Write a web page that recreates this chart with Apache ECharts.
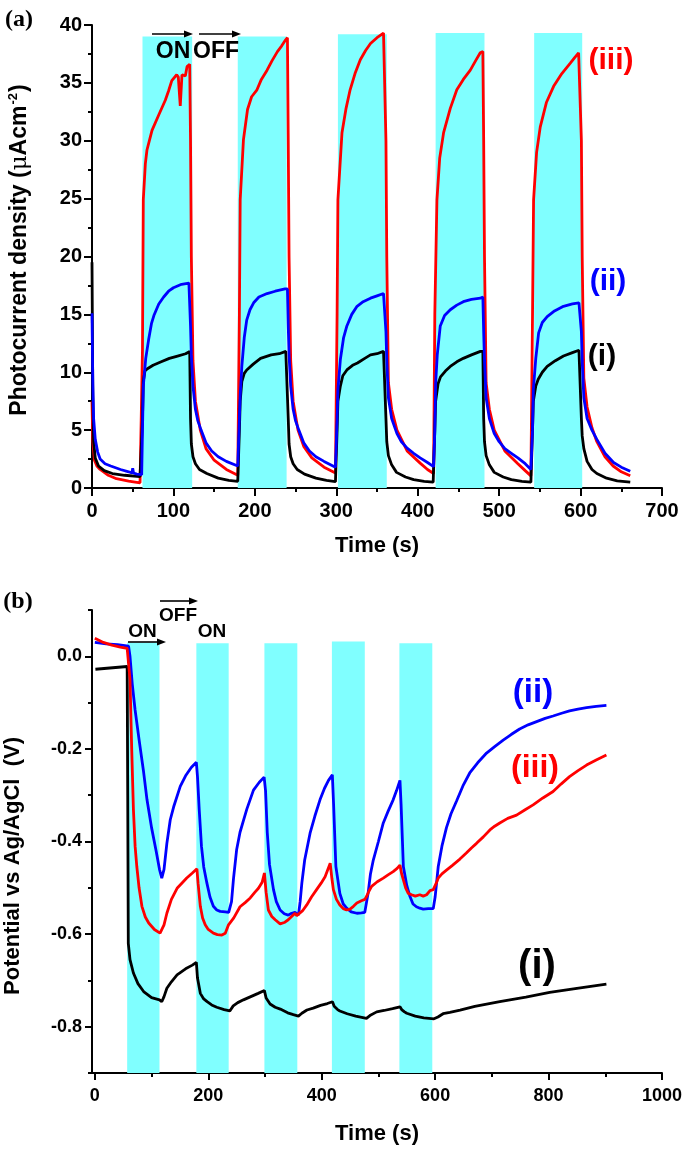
<!DOCTYPE html>
<html><head><meta charset="utf-8">
<script src="https://cdn.jsdelivr.net/npm/echarts@6.0.0/dist/echarts.min.js"></script>
<style>html,body{margin:0;padding:0;background:#fff}#c{width:685px;height:1150px}</style>
</head><body><div id="c"></div>
<script>
// ---------- Panel (a): photocurrent density (uA cm^-2) vs time (s) ----------
const photoBlack = [[0,19.5],[1,8],[2,4],[4,2.6],[8,1.9],[15,1.5],[25,1.25],[40,1.1],[59,0.98],[61,1.0],[62,6],[63,9.2],[65,10.1],[68,10.3],[75,10.6],[85,10.9],[95,11.2],[105,11.4],[115,11.6],[120,11.8],[121,6],[122,3.8],[124,2.7],[127,2.1],[132,1.6],[141,1.25],[155,0.85],[168,0.65],[179,0.58],
[180,0.6],[181,5],[182,7.5],[184,9.2],[187,9.9],[190,10.2],[198,10.7],[207,11.2],[220,11.5],[230,11.6],[238,11.8],[240,11.8],[241,6],[242,3.8],[244,2.7],[247,2.1],[252,1.6],[261,1.2],[275,0.85],[288,0.65],[299,0.55],
[300,0.55],[301,5],[302,7.5],[305,8.8],[308,9.7],[313,10.2],[320,10.6],[326,10.8],[335,11.2],[342,11.5],[350,11.6],[358,11.8],[360,11.8],[361,6],[362,4],[364,2.8],[368,2],[374,1.35],[385,0.95],[395,0.72],[408,0.58],[419,0.5],
[420,0.5],[421,5],[422,7.5],[425,9.0],[428,9.6],[434,10.1],[440,10.5],[448,10.9],[456,11.2],[466,11.5],[477,11.8],[480,11.8],[481,6],[482,4],[484,2.8],[488,2],[494,1.35],[505,0.95],[515,0.72],[528,0.58],[539,0.5],
[540,0.5],[541,5],[542,7.5],[545,8.8],[548,9.4],[553,10.0],[559,10.5],[569,11.0],[579,11.4],[590,11.7],[598,11.9],[600,11.9],[601,6],[602,4.5],[604,3.4],[608,2.3],[614,1.6],[620,1.25],[632,0.85],[645,0.62],[661,0.5]];

const photoBlue = [[0,15.1],[1,9],[2,6],[4,4.2],[7,3.1],[10,2.5],[16,2.1],[23,1.9],[35,1.6],[45,1.4],[49,1.3],[50,1.7],[51,1.3],[55,1.2],[61,1.15],
[62,5],[63,8.8],[66,11.2],[69.5,12.8],[73,14.2],[76,14.9],[82,15.9],[88,16.5],[94,17.0],[100,17.3],[110,17.6],[119,17.7],[120,17.8],
[121,14],[122,11.5],[124,8.8],[127,6.8],[130,5.8],[134,5.0],[140,3.9],[147,3.2],[155,2.7],[165,2.3],[179,1.9],
[180,1.9],[181,6],[182,8],[184,10.5],[187,13],[190,14.5],[194,15.4],[198.5,16.0],[205,16.5],[215,16.8],[225,17.0],[237,17.2],[240,17.2],
[241,14],[242,11.5],[244,8.8],[247,6.8],[250,5.8],[254,5.0],[260,3.9],[267,3.2],[275,2.7],[285,2.3],[299,1.8],
[300,1.8],[301,6],[302,8.5],[305,11.1],[309,13],[313,14.0],[319,15.0],[325.5,15.7],[333,16.1],[342,16.4],[350,16.6],[358,16.8],[360,16.8],
[361,13.5],[362,11],[364,7.8],[368,6],[374.5,4.7],[380,4.0],[387,3.45],[395,3.0],[403,2.6],[412,2.2],[419.5,1.85],
[420,1.8],[421,5],[422,9],[424,11.5],[427.7,14.0],[433,14.9],[440,15.4],[448,15.8],[456,16.1],[466,16.3],[477,16.4],[480,16.5],
[481,13.5],[482,11],[484,7.8],[488,6],[494,4.7],[500,4.0],[507,3.4],[515,3.0],[523,2.6],[532,2.1],[539,1.6],
[540,1.55],[541,5],[542,8.5],[545,11.2],[548.5,13.4],[553,14.3],[559,14.8],[568,15.3],[579,15.7],[590,15.9],[598,16.0],[600,16.1],
[601,13.5],[602,11],[604,7.8],[608,6],[614,5],[620,4.2],[630,3.0],[640.5,2.2],[650,1.8],[661,1.45]];

const photoRed = [[0,7.5],[1,4],[3,2.4],[6,1.9],[10,1.6],[20,1.1],[30,0.8],[45,0.6],[59,0.45],[61,0.5],
[62,12],[63,24.9],[65.5,28],[67.5,29.2],[73.7,30.9],[81.8,32.2],[90,33.5],[94,34.3],[98,35.2],[104,35.7],[106,35.5],[108.4,33.0],[110.5,35.7],[114.6,35.6],[116.7,36.4],[120,36.6],
[121,30],[122,20],[124,11],[127,7.5],[133,5.0],[140,3.4],[150,2.4],[165,1.6],[179,1.1],
[180,1.1],[181,15],[182,24.9],[186,30.1],[191,32.7],[196,33.8],[202.6,34.4],[208,35.3],[215,36.1],[221,36.9],[227.7,37.7],[233,38.2],[237.6,38.7],[240,38.9],
[241,30],[242,20],[244,11],[247,7.5],[253,5.0],[260,3.6],[270,2.6],[285,1.8],[299,1.3],
[300,1.3],[301,15],[302,24.9],[307,30.7],[312,32.8],[317,34.4],[323,35.8],[329.5,37.0],[336,37.8],[342,38.4],[350,38.9],[358,39.3],[360,39.3],
[361,30],[362,20],[364,9.1],[368,6.8],[374.5,5.0],[387,3.2],[403,2.15],[412,1.6],[419.5,1.25],
[420,1.2],[421,15],[423.6,24.9],[427,28.5],[431.8,30.7],[440,32.8],[448,34.4],[456,35.3],[464.6,36.1],[471,36.9],[476.8,37.6],[480,37.7],
[481,30],[482,20],[484,9.1],[488,6.8],[494,5.0],[507,3.2],[523,2.1],[532,1.5],[539,1.05],
[540,1.0],[541,15],[542.3,24.9],[546,29],[550.5,31.2],[558,33.3],[566.9,34.7],[577,35.8],[587.4,36.7],[593,37.2],[597.6,37.6],[600,37.6],
[601,30],[602,20],[604,9.5],[608,7],[614,5.2],[620,4.0],[630,2.7],[640,1.9],[650,1.4],[661,1.06]];

// illumination (ON) periods in panel (a): [start, end, top]
const photoOnPeriods = [[62,123,39.0],[179,239,39.0],[302,362,39.2],[422,482,39.3],[543,602,39.3]];

// ---------- Panel (b): potential vs Ag/AgCl (V) vs time (s) ----------
const potBlack = [[1,-0.028],[57,-0.022],[58,-0.3],[59,-0.62],[62,-0.655],[68,-0.684],[76,-0.707],[86,-0.724],[100,-0.737],[114,-0.742],[118,-0.746],
[122,-0.735],[127,-0.717],[135,-0.703],[145,-0.688],[160,-0.675],[172,-0.667],[179,-0.661],
[181,-0.695],[186,-0.728],[192,-0.74],[198,-0.746],[206,-0.753],[215,-0.758],[228,-0.763],[238,-0.766],
[244,-0.755],[252,-0.748],[262,-0.742],[275,-0.735],[288,-0.728],[299,-0.722],
[302,-0.738],[309,-0.751],[318,-0.758],[327,-0.762],[340,-0.77],[350,-0.774],[359,-0.777],
[365,-0.771],[374,-0.764],[385,-0.76],[398,-0.754],[410,-0.75],[419,-0.746],
[422,-0.756],[428,-0.763],[432,-0.766],[445,-0.772],[460,-0.777],[479,-0.782],
[485,-0.776],[497,-0.768],[510,-0.765],[525,-0.761],[538,-0.757],
[541,-0.763],[546,-0.768],[550,-0.771],[565,-0.777],[580,-0.781],[598,-0.783],
[605,-0.779],[614,-0.772],[626,-0.769],[644,-0.764],[670,-0.756],[714,-0.746],[760,-0.736],[802,-0.726],[850,-0.717],[902,-0.708]];

const potBlue = [[0,0.03],[20,0.027],[40,0.025],[59.5,0.022],[62,0.0],[66,-0.06],[71,-0.116],[78,-0.18],[86,-0.25],[92,-0.31],[100,-0.37],[108,-0.42],[114,-0.46],[118,-0.479],
[122,-0.46],[127,-0.404],[133,-0.353],[139,-0.325],[150.6,-0.281],[160,-0.258],[170,-0.24],[179,-0.229],
[181,-0.26],[184,-0.33],[188,-0.41],[192,-0.455],[197.6,-0.49],[203,-0.52],[209,-0.54],[215,-0.548],[221,-0.551],[230,-0.552],[236,-0.553],[238.6,-0.555],
[241,-0.53],[244.5,-0.48],[250,-0.418],[256,-0.38],[262,-0.355],[268,-0.33],[279.7,-0.289],[290,-0.272],[298.5,-0.261],
[301,-0.29],[304,-0.38],[308,-0.45],[315,-0.504],[320,-0.53],[326.7,-0.548],[334,-0.556],[341,-0.559],[347,-0.555],[353,-0.553],[359,-0.559],
[362,-0.53],[365,-0.49],[370,-0.44],[379.5,-0.382],[388,-0.345],[397,-0.31],[405,-0.285],[412,-0.268],[418.8,-0.256],
[421,-0.32],[425,-0.454],[432,-0.512],[438,-0.535],[444,-0.544],[452,-0.552],[462,-0.555],[470,-0.554],[476,-0.553],[479,-0.55],
[482,-0.51],[486,-0.47],[491,-0.44],[500,-0.4],[508.6,-0.36],[517,-0.335],[526,-0.31],[532,-0.29],[538,-0.268],
[540,-0.32],[544,-0.454],[550,-0.495],[555.7,-0.519],[561,-0.535],[567,-0.541],[573,-0.544],[579,-0.546],[588,-0.545],[596.7,-0.545],
[600,-0.52],[605.5,-0.454],[612,-0.41],[620,-0.37],[628,-0.34],[638,-0.312],[649,-0.28],[661,-0.252],[675,-0.23],[690.7,-0.209],[705,-0.195],[720,-0.181],[734,-0.169],[749,-0.157],[764,-0.148],[779,-0.141],[794,-0.134],[808,-0.129],[823,-0.123],[837,-0.118],[852,-0.114],[867,-0.111],[884,-0.108],[902,-0.106]];

const potRed = [[0,0.039],[15,0.03],[30,0.024],[45,0.02],[57,0.017],[60,0.015],[62,-0.05],[65,-0.2],[68,-0.33],[71,-0.41],[74,-0.454],[78,-0.5],[83,-0.54],[89,-0.563],[95,-0.576],[105,-0.59],[115,-0.598],[118,-0.6],
[122,-0.58],[127,-0.555],[135,-0.525],[145,-0.501],[155,-0.488],[162,-0.479],[172,-0.468],[180,-0.459],
[182,-0.49],[186,-0.54],[190,-0.565],[194.6,-0.58],[200,-0.59],[209,-0.598],[216,-0.601],[224,-0.602],[230,-0.598],[233,-0.595],[235.7,-0.58],[238.6,-0.584],
[245,-0.565],[256,-0.541],[265,-0.532],[274,-0.522],[282,-0.51],[288.5,-0.501],[295,-0.488],[299,-0.468],
[302,-0.51],[306,-0.548],[312,-0.562],[318,-0.569],[326.7,-0.578],[334,-0.575],[341,-0.569],[347,-0.562],[353,-0.555],[356,-0.56],[359,-0.564],
[366,-0.55],[373.7,-0.537],[382,-0.52],[391,-0.504],[399,-0.49],[406,-0.476],[411,-0.46],[415,-0.447],
[418,-0.48],[420.6,-0.504],[426,-0.525],[432,-0.537],[438,-0.545],[444,-0.548],[450,-0.546],[456,-0.54],[462,-0.533],[470,-0.528],[476,-0.525],[479,-0.519],
[483,-0.508],[488,-0.497],[498,-0.487],[508.6,-0.479],[517,-0.472],[526,-0.465],[533,-0.458],[538,-0.451],
[541,-0.47],[544,-0.483],[548,-0.5],[552.6,-0.512],[558.6,-0.515],[565,-0.518],[573,-0.515],[579,-0.518],[585,-0.515],[591,-0.506],[596.7,-0.504],
[602,-0.49],[605.5,-0.479],[612,-0.47],[620,-0.462],[630,-0.452],[643.7,-0.438],[655,-0.425],[664,-0.414],[673,-0.404],[685,-0.39],[696.6,-0.375],[705,-0.367],[714,-0.36],[728,-0.35],[743.6,-0.343],[758,-0.332],[772.8,-0.321],[790,-0.306],[808,-0.292],[822,-0.276],[837,-0.26],[852,-0.247],[867,-0.235],[884,-0.224],[902,-0.213]];

const potOnPeriods = [[57,114,0.03],[179,236,0.028],[299,357,0.028],[418,476,0.032],[537,595,0.028]];

// tick values for panel (b)
const potXLabels = [0,200,400,600,800,1000];
const potXMinor = [100,300,500,700,900];
const potYLabels = [-0.8,-0.6,-0.4,-0.2,0];
const potYMinor = [-0.9,-0.7,-0.5,-0.3,-0.1,0.1];

// ---------- chart ----------
const FONT = "'Liberation Sans', Arial, Helvetica, sans-serif";
const CYAN = '#80FFFF';
const chart = echarts.init(document.getElementById('c'), null, {renderer: 'canvas'});

const axLine = {show: true, onZero: false, lineStyle: {color: '#000', width: 2}};
const noLine = {show: false, onZero: false};
const tickStyle = {color: '#000', width: 2};
const lblStyle = (size, margin) => ({color: '#000', fontWeight: 'bold', fontSize: size, fontFamily: FONT, margin: margin});
const nameStyle = {color: '#000', fontWeight: 'bold', fontSize: 22, fontFamily: FONT};

function lineSeries(data, color, xi, yi, z) {
  return {type: 'line', data: data, xAxisIndex: xi, yAxisIndex: yi, showSymbol: false, symbol: 'none',
    lineStyle: {color: color, width: 2.8}, z: z, silent: true, animation: false};
}
function areaSeries(periods, bottom, xi, yi) {
  return {type: 'line', data: [], xAxisIndex: xi, yAxisIndex: yi, z: 1, silent: true, animation: false,
    markArea: {silent: true, itemStyle: {color: CYAN, opacity: 1},
      data: periods.map(p => [{xAxis: p[0], yAxis: bottom}, {xAxis: p[1], yAxis: p[2]}])}};
}

const option = {
  animation: false,
  backgroundColor: '#fff',
  grid: [
    {left: 92, top: 25, width: 570, height: 463},
    {left: 92, top: 610, width: 570, height: 463}
  ],
  xAxis: [
    {gridIndex: 0, type: 'value', position: 'bottom', min: 0, max: 700, interval: 100,
      axisLine: axLine, axisTick: {length: 8, lineStyle: tickStyle},
      minorTick: {show: true, splitNumber: 2, length: 4, lineStyle: tickStyle},
      splitLine: {show: false}, axisLabel: lblStyle(20, 13),
      name: 'Time (s)', nameLocation: 'middle', nameGap: 47, nameTextStyle: nameStyle},
    {gridIndex: 1, type: 'value', position: 'bottom', offset: 0, min: -5, max: 1000,
      axisLine: axLine, axisTick: {length: 7, lineStyle: tickStyle, customValues: potXLabels},
      splitLine: {show: false},
      axisLabel: Object.assign(lblStyle(18, 14), {customValues: potXLabels, formatter: v => String(Math.round(v))}),
      name: 'Time (s)', nameLocation: 'middle', nameGap: 50, nameTextStyle: nameStyle},
    {gridIndex: 1, type: 'value', position: 'bottom', offset: 0, min: -5, max: 1000,
      axisLine: noLine, axisTick: {length: 4, lineStyle: tickStyle, customValues: potXMinor},
      splitLine: {show: false}, axisLabel: {show: false}}
  ],
  yAxis: [
    {gridIndex: 0, type: 'value', position: 'left', min: 0, max: 40, interval: 5,
      axisLine: axLine, axisTick: {length: 8, lineStyle: tickStyle},
      minorTick: {show: true, splitNumber: 2, length: 4, lineStyle: tickStyle},
      splitLine: {show: false}, axisLabel: lblStyle(20, 10)},
    {gridIndex: 1, type: 'value', position: 'left', offset: 0, min: -0.9, max: 0.1,
      axisLine: axLine, axisTick: {length: 7, lineStyle: tickStyle, customValues: potYLabels},
      splitLine: {show: false},
      axisLabel: Object.assign(lblStyle(18, 10), {customValues: potYLabels, formatter: v => (Math.abs(v) < 1e-9 ? '0.0' : v.toFixed(1))})},
    {gridIndex: 1, type: 'value', position: 'left', offset: 0, min: -0.9, max: 0.1,
      axisLine: noLine, axisTick: {length: 4, lineStyle: tickStyle, customValues: potYMinor},
      splitLine: {show: false}, axisLabel: {show: false}}
  ],
  series: [
    areaSeries(photoOnPeriods, 0, 0, 0),
    lineSeries(photoRed, '#FF0000', 0, 0, 3),
    lineSeries(photoBlack, '#000000', 0, 0, 4),
    lineSeries(photoBlue, '#0000FF', 0, 0, 5),
    areaSeries(potOnPeriods, -0.9, 1, 1),
    lineSeries(potBlack, '#000000', 1, 1, 3),
    lineSeries(potBlue, '#0000FF', 1, 1, 4),
    lineSeries(potRed, '#FF0000', 1, 1, 5)
  ],
  graphic: []
};

function txt(x, y, text, size, color, family, extra) {
  return Object.assign({type: 'text', x: x, y: y, silent: true, z: 100,
    style: {text: text, fill: color, font: 'bold ' + size + 'px ' + (family || FONT), align: 'center', verticalAlign: 'middle'}}, extra || {});
}
function arrow(x1, x2, y) {
  return [
    {type: 'line', silent: true, z: 100, shape: {x1: x1, y1: y, x2: x2 - 6, y2: y}, style: {stroke: '#000', lineWidth: 1.6}},
    {type: 'polygon', silent: true, z: 100, shape: {points: [[x2, y], [x2 - 9, y - 3.5], [x2 - 9, y + 3.5]]}, style: {fill: '#000'}}
  ];
}
const SERIF = "'Liberation Serif', 'Times New Roman', serif";
const g = [];
g.push(txt(19, 20, '(a)', 24, '#000', SERIF));
g.push(txt(18, 602, '(b)', 24, '#000', SERIF));
g.push(txt(173, 52, 'ON', 23, '#000'));
g.push(txt(216, 52, 'OFF', 23, '#000'));
g.push(...arrow(152, 193, 34), ...arrow(199, 241, 34));
g.push(txt(142.5, 632, 'ON', 19, '#000'));
g.push(txt(178, 616, 'OFF', 19, '#000'));
g.push(txt(212, 632, 'ON', 19, '#000'));
g.push(...arrow(128, 166, 642), ...arrow(160, 198, 601));
g.push(txt(611, 61, '(iii)', 30, '#FF0000'));
g.push(txt(608, 282, '(ii)', 30, '#0000FF'));
g.push(txt(602, 357, '(i)', 30, '#000'));
g.push(txt(533, 693, '(ii)', 33, '#0000FF'));
g.push(txt(535, 768, '(iii)', 32, '#FF0000'));
g.push(txt(537, 967, '(i)', 40, '#000'));
// y-axis titles (rotated)
g.push({type: 'text', x: 20, y: 250, rotation: Math.PI / 2, silent: true, z: 100,
  style: {text: '{b|Photocurrent density (}{mu|\u03BC}{b|Acm}{sup|-2}{b|)}', align: 'center', verticalAlign: 'middle',
    rich: {
      b: {fontSize: 23, fontWeight: 'bold', fontFamily: FONT, fill: '#000', lineHeight: 26},
      mu: {fontSize: 23, fontFamily: "'DejaVu Serif', serif", fill: '#000', lineHeight: 26},
      sup: {fontSize: 13, fontWeight: 'bold', fontFamily: FONT, fill: '#000', lineHeight: 26, verticalAlign: 'top', padding: [0, 1, 12, 1]}
    }}});
g.push({type: 'text', x: 13, y: 866, rotation: Math.PI / 2, silent: true, z: 100,
  style: {text: 'Potential vs Ag/AgCl  (V)', fill: '#000', font: 'bold 22px ' + FONT, align: 'center', verticalAlign: 'middle'}});
option.graphic = g;
chart.setOption(option);
</script></body></html>
